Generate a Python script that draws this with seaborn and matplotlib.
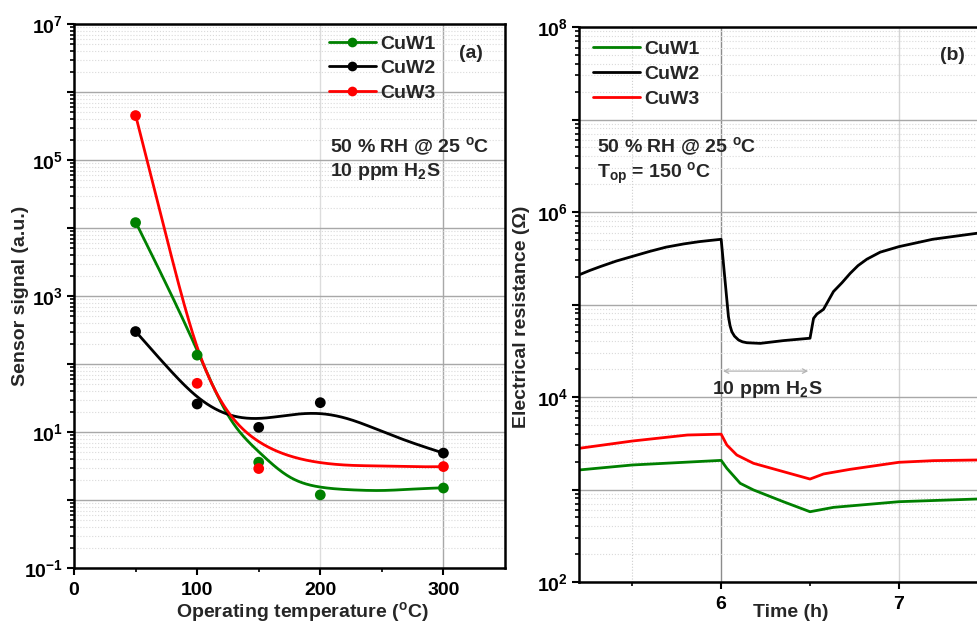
import numpy as np
import pandas as pd
import matplotlib
matplotlib.use("Agg")
import matplotlib.pyplot as plt
from matplotlib.lines import Line2D
from matplotlib.ticker import FixedLocator, FuncFormatter, LogLocator, NullFormatter
import seaborn as sns

# ---------------- (a) sensor signal vs operating temperature ----------------
temps = [50, 100, 150, 200, 300]
signal_cuw1 = [1.2e4, 135, 3.6, 1.19, 1.5]
signal_cuw2 = [300, 25.8, 11.7, 27, 4.9]
signal_cuw3 = [4.5e5, 52, 2.9, np.nan, 3.1]

# smoothed trend of each sample, log10(signal) at these temperatures
fit_temps = [50, 75, 100, 125, 150, 175, 200, 225, 250, 275, 300]
fit_log_cuw1 = [4.09, 3.17, 2.20, 1.25, 0.71, 0.34, 0.19, 0.15, 0.14, 0.16, 0.18]
fit_log_cuw2 = [2.48, 1.97, 1.52, 1.26, 1.20, 1.25, 1.27, 1.18, 1.01, 0.84, 0.69]
fit_log_cuw3 = [5.66, 3.875, 2.25, 1.30, 0.86, 0.65, 0.55, 0.51, 0.50, 0.49, 0.49]

# ---------------- (b) resistance transients, T_op = 150 C ----------------
time_cuw1 = [5.2, 5.5, 6.0, 6.032, 6.107, 6.182, 6.35, 6.5, 6.632, 7.0, 7.44]
res_cuw1 = [1626, 1841, 2065, 1694, 1167, 989, 738, 575, 641, 738, 789]

time_cuw2 = [5.2, 5.26, 5.32, 5.41, 5.5, 5.6, 5.69, 5.79, 5.88, 5.94, 6.0,
             6.041, 6.05, 6.06, 6.075, 6.098, 6.12, 6.145, 6.22,
             6.35, 6.5, 6.52, 6.539, 6.576, 6.632, 6.68, 6.726, 6.77, 6.82,
             6.895, 7.0, 7.19, 7.44]
res_cuw2 = [2.09e5, 2.33e5, 2.57e5, 2.95e5, 3.31e5, 3.76e5, 4.17e5, 4.52e5,
            4.79e5, 4.93e5, 5.07e5, 7.38e4, 5.9e4, 5.08e4, 4.55e4, 4.13e4,
            3.95e4, 3.86e4, 3.80e4, 4.07e4, 4.32e4, 7.08e4, 7.89e4, 8.87e4,
            1.38e5, 1.72e5, 2.17e5, 2.63e5, 3.09e5, 3.68e5, 4.22e5, 5.07e5,
            5.89e5]

time_cuw3 = [5.2, 5.5, 5.81, 6.0, 6.032, 6.088, 6.182, 6.35, 6.5, 6.576, 6.726,
             7.0, 7.195, 7.44]
res_cuw3 = [2786, 3342, 3882, 3963, 3027, 2360, 1919, 1560, 1297, 1472, 1652,
            1968, 2051, 2084]

labels = ["CuW1", "CuW2", "CuW3"]
colors = ["#008000", "#000000", "#ff0000"]

W, H = 977, 626


def natural_spline(xk, yk, xs):
    """Natural cubic spline through the knots (xk, yk), evaluated at xs."""
    xk = np.asarray(xk, float)
    yk = np.asarray(yk, float)
    n = len(xk)
    h = np.diff(xk)
    A = np.zeros((n, n))
    r = np.zeros(n)
    A[0, 0] = A[-1, -1] = 1.0
    for i in range(1, n - 1):
        A[i, i - 1] = h[i - 1]
        A[i, i] = 2 * (h[i - 1] + h[i])
        A[i, i + 1] = h[i]
        r[i] = 3 * ((yk[i + 1] - yk[i]) / h[i] - (yk[i] - yk[i - 1]) / h[i - 1])
    c = np.linalg.solve(A, r)
    b = (yk[1:] - yk[:-1]) / h - h * (2 * c[:-1] + c[1:]) / 3
    d = (c[1:] - c[:-1]) / (3 * h)
    idx = np.clip(np.searchsorted(xk, xs, side="right") - 1, 0, n - 2)
    dx = xs - xk[idx]
    return yk[idx] + b[idx] * dx + c[idx] * dx ** 2 + d[idx] * dx ** 3


sns.set_theme(style="white")
plt.rcParams["font.family"] = ["Liberation Sans", "DejaVu Sans"]
plt.rcParams.update({
    "font.weight": "bold",
    "axes.labelweight": "bold",
    "mathtext.fontset": "custom",
    "mathtext.rm": "Liberation Sans:bold",
    "mathtext.bf": "Liberation Sans:bold",
    "mathtext.it": "Liberation Sans:bold:italic",
    "mathtext.default": "rm",
    "axes.edgecolor": "black",
    "axes.linewidth": 1.8,
})

FS = 14
LW = 2.0
fig = plt.figure(figsize=(W / 100, H / 100), dpi=100)


def px_axes(left, top, right, bottom):
    return fig.add_axes([left / W, 1 - bottom / H, (right - left) / W, (bottom - top) / H])


def fig_text(x, y, s, **kw):
    fig.text(x / W, 1 - y / H, s, fontsize=FS, fontweight="bold", **kw)


def odd_decades(v, pos):
    e = int(round(np.log10(v)))
    return f"$10^{{{e}}}$" if e % 2 else ""


def even_decades(v, pos):
    e = int(round(np.log10(v)))
    return "" if e % 2 else f"$10^{{{e}}}$"


def style_axes(ax):
    ax.set_yscale("log")
    ax.set_axisbelow(True)
    ax.tick_params(which="major", direction="out", length=5, width=1.5,
                   labelsize=FS, pad=3, color="black", labelcolor="black")
    ax.tick_params(which="minor", direction="out", length=3, width=1.2, color="black")
    ax.tick_params(axis="x", which="both", bottom=True, top=False)
    ax.tick_params(axis="y", which="both", left=True, right=False)
    ax.yaxis.set_minor_locator(LogLocator(base=10, subs=np.arange(2, 10), numticks=50))
    ax.yaxis.set_minor_formatter(NullFormatter())
    ax.grid(which="major", axis="y", color="#a8a8a8", lw=1.0, ls="-")
    ax.grid(which="minor", axis="y", color="#dadada", lw=0.8, ls=":")
    for sp in ax.spines.values():
        sp.set_color("black")
        sp.set_linewidth(1.8)


# ---------------- panel (a) ----------------
ax_a = px_axes(74, 24, 505, 568)
dense_t = np.linspace(50, 300, 400)
fits = [fit_log_cuw1, fit_log_cuw2, fit_log_cuw3]
sigs = [signal_cuw1, signal_cuw2, signal_cuw3]
for lab, col, fit, sig in zip(labels, colors, fits, sigs):
    curve = pd.DataFrame({"T": dense_t, "S": 10 ** natural_spline(fit_temps, fit, dense_t)})
    sns.lineplot(data=curve, x="T", y="S", ax=ax_a, color=col, lw=LW,
                 sort=False, estimator=None, legend=False)
    pts = pd.DataFrame({"T": temps, "S": sig}).dropna()
    sns.scatterplot(data=pts, x="T", y="S", ax=ax_a, color=col, s=60,
                    edgecolor="none", zorder=3, legend=False)

style_axes(ax_a)
ax_a.set_xlim(0, 350)
ax_a.set_ylim(1e-1, 1e7)
ax_a.xaxis.set_major_locator(FixedLocator([0, 100, 200, 300]))
ax_a.xaxis.set_minor_locator(FixedLocator([50, 150, 250]))
ax_a.yaxis.set_major_locator(FixedLocator([10.0 ** e for e in range(-1, 8)]))
ax_a.yaxis.set_major_formatter(FuncFormatter(odd_decades))
ax_a.axvline(200, color="#dcdcdc", lw=1.0, zorder=0)
ax_a.axvline(300, color="#a8a8a8", lw=1.0, zorder=0)
ax_a.tick_params(axis="x", pad=5)
ax_a.set_xlabel("Operating temperature ($^{o}$C)", fontsize=FS)
ax_a.set_ylabel("Sensor signal (a.u.)", fontsize=FS)
ax_a.xaxis.set_label_coords((302.7 - 74) / 431, (568 - 612.5) / 544)
ax_a.xaxis.label.set_verticalalignment("center")
ax_a.yaxis.set_label_coords((21 - 74) / 431, 0.5)
ax_a.yaxis.label.set_verticalalignment("center")

handles_a = [Line2D([], [], color=c, lw=LW, marker="o", ms=7, mec="none") for c in colors]
ax_a.legend(handles_a, labels, loc="upper left", bbox_to_anchor=(329 / W, 1 - 35 / H),
            bbox_transform=fig.transFigure, frameon=False, fontsize=FS,
            handlelength=2.4, handletextpad=0.25, labelspacing=0.36,
            borderpad=0, borderaxespad=0)

fig_text(330, 152, "50 % RH @ 25 $^{o}$C", va="baseline", ha="left")
fig_text(330, 176, "10 ppm H$_{2}$S", va="baseline", ha="left")
fig_text(471, 53, "(a)", va="center", ha="center")

# ---------------- panel (b) ----------------
x_right = 5.2 + (W + 30 - 579) / 177.7
ax_b = px_axes(579, 27, 579 + (x_right - 5.2) * 177.7, 582)
series_b = [(time_cuw1, res_cuw1), (time_cuw2, res_cuw2), (time_cuw3, res_cuw3)]
for lab, col, (tt, rr) in zip(labels, colors, series_b):
    df = pd.DataFrame({"t": tt, "R": rr})
    sns.lineplot(data=df, x="t", y="R", ax=ax_b, color=col, lw=LW,
                 sort=False, estimator=None, legend=False)

style_axes(ax_b)
ax_b.set_xlim(5.2, x_right)
ax_b.set_ylim(1e2, 1e8)
ax_b.xaxis.set_major_locator(FixedLocator([6, 7]))
ax_b.xaxis.set_major_formatter(FuncFormatter(lambda v, p: f"{v:.0f}"))
ax_b.xaxis.set_minor_locator(FixedLocator([5.5, 6.5, 7.5]))
ax_b.yaxis.set_major_locator(FixedLocator([10.0 ** e for e in range(2, 9)]))
ax_b.yaxis.set_major_formatter(FuncFormatter(even_decades))
ax_b.axvline(6, color="#8c8c8c", lw=1.0, zorder=0)
ax_b.axvline(7, color="#d4d4d4", lw=1.0, zorder=0)
ax_b.axvline(5.5, color="#cdcdcd", lw=0.8, ls=":", zorder=0)
ax_b.tick_params(axis="x", pad=5)
ax_b.set_xlabel("Time (h)", fontsize=FS)
ax_b.set_ylabel("Electrical resistance (\u03a9)", fontsize=FS)
wb = (x_right - 5.2) * 177.7
ax_b.xaxis.set_label_coords((790.6 - 579) / wb, (582 - 612.5) / 555)
ax_b.xaxis.label.set_verticalalignment("center")
ax_b.yaxis.set_label_coords((522 - 579) / wb, (582 - 317) / 555)
ax_b.yaxis.label.set_verticalalignment("center")

ax_b.annotate("", xy=(6.49, 10 ** 4.28), xytext=(6.01, 10 ** 4.28),
              arrowprops=dict(arrowstyle="<->", color="#b4b4b4", lw=0.9,
                              mutation_scale=8, shrinkA=0, shrinkB=0))
ax_b.text(6.257, 10 ** 4.03, "10 ppm H$_{2}$S", fontsize=FS, fontweight="bold",
          ha="center", va="baseline")

handles_b = [Line2D([], [], color=c, lw=LW) for c in colors]
ax_b.legend(handles_b, labels, loc="upper left", bbox_to_anchor=(593 / W, 1 - 40 / H),
            bbox_transform=fig.transFigure, frameon=False, fontsize=FS,
            handlelength=2.4, handletextpad=0.25, labelspacing=0.38,
            borderpad=0, borderaxespad=0)

fig_text(597, 152, "50 % RH @ 25 $^{o}$C", va="baseline", ha="left")
fig_text(597, 178, "T$_{op}$ = 150 $^{o}$C", va="baseline", ha="left")
fig_text(952, 55, "(b)", va="center", ha="center")

fig.savefig("out.png", dpi=100)
